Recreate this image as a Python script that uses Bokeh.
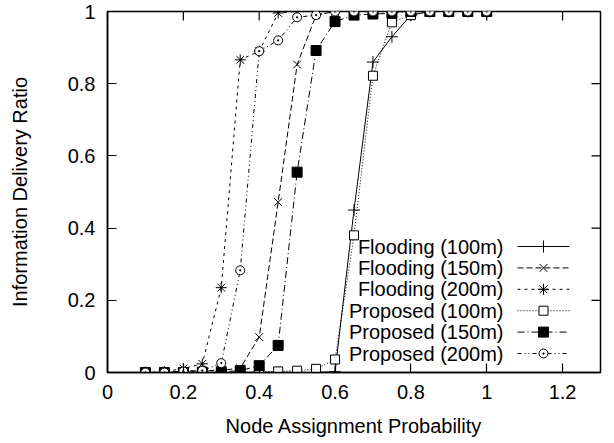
import math
from bokeh.plotting import figure
from bokeh.models import Range1d, FixedTicker, Label
from bokeh.embed import file_html
from bokeh.resources import INLINE

# ---- data ----
x_prob = [0.10, 0.15, 0.20, 0.25, 0.30, 0.35, 0.40, 0.45, 0.50, 0.55,
          0.60, 0.65, 0.70, 0.75, 0.80, 0.85, 0.90, 0.95, 1.00]

flooding_100 = [0.0, 0.0, 0.0, 0.0, 0.0, 0.0, 0.0, 0.0, 0.0, 0.0,
                0.002, 0.45, 0.86, 0.93, 0.99, 1.0, 1.0, 1.0, 1.0]
flooding_150 = [0.0, 0.0, 0.004, 0.005, 0.006, 0.012, 0.098, 0.472, 0.853, 0.99,
                1.0, 1.0, 1.0, 1.0, 1.0, 1.0, 1.0, 1.0, 1.0]
flooding_200 = [0.0, 0.002, 0.011, 0.024, 0.235, 0.866, 0.89, 0.996, 1.0, 1.0,
                1.0, 1.0, 1.0, 1.0, 1.0, 1.0, 1.0, 1.0, 1.0]
proposed_100 = [0.0, 0.0, 0.0, 0.0, 0.0, 0.0, 0.002, 0.003, 0.005, 0.01,
                0.036, 0.38, 0.822, 0.97, 0.99, 1.0, 1.0, 1.0, 1.0]
proposed_150 = [0.0, 0.0, 0.0, 0.001, 0.002, 0.005, 0.019, 0.075, 0.555, 0.892,
                0.972, 0.99, 0.993, 0.995, 1.0, 1.0, 1.0, 1.0, 1.0]
proposed_200 = [0.0, 0.0, 0.003, 0.005, 0.026, 0.283, 0.89, 0.92, 0.984, 0.99,
                1.0, 1.0, 1.0, 1.0, 1.0, 1.0, 1.0, 1.0, 1.0]

series_labels = ["Flooding (100m)", "Flooding (150m)", "Flooding (200m)",
                 "Proposed (100m)", "Proposed (150m)", "Proposed (200m)"]

x_ticks = [0, 0.2, 0.4, 0.6, 0.8, 1.0, 1.2]
x_tick_labels = ["0", "0.2", "0.4", "0.6", "0.8", "1", "1.2"]
y_ticks = [0, 0.2, 0.4, 0.6, 0.8, 1.0]
y_tick_labels = ["0", "0.2", "0.4", "0.6", "0.8", "1"]

# ---- styles ----
FONT = "Liberation Sans"
FS = "20px"
styles = [
    dict(dash="solid", marker="cross", size=12, fill="black"),
    dict(dash="6 3", marker="x", size=11, fill="black"),
    dict(dash="3 4", marker="asterisk", size=11, fill="black"),
    dict(dash="1 2", marker="square", size=9, fill="white"),
    dict(dash="7 3 1 3", marker="square", size=10, fill="black"),
    dict(dash="4 3 1 3 1 3", marker="circle_dot", size=9, fill="white"),
]
series = [flooding_100, flooding_150, flooding_200, proposed_100, proposed_150, proposed_200]

X0, X1 = 0.0, 1.3
Y0, Y1 = 0.0, 1.0
L, R, T, B = 107, 14, 11, 71
W, H = 614, 443
TICK = 9

p = figure(width=W, height=H, x_range=Range1d(X0, X1), y_range=Range1d(Y0, Y1),
           output_backend="svg", toolbar_location=None,
           min_border_left=L, min_border_right=R, min_border_top=T, min_border_bottom=B)
p.grid.visible = False
p.outline_line_color = "black"
p.outline_line_width = 1.5
p.background_fill_color = "white"
p.border_fill_color = "white"

def style_axis(ax, ticks, labels):
    ax.ticker = FixedTicker(ticks=ticks)
    ax.major_label_overrides = {t: l for t, l in zip(ticks, labels)}
    ax.major_tick_in = TICK
    ax.major_tick_out = 0
    ax.minor_tick_line_color = None
    ax.axis_line_width = 1.5
    ax.major_tick_line_width = 1.2
    ax.axis_line_color = "black"
    ax.major_tick_line_color = "black"
    ax.major_label_text_font = FONT
    ax.major_label_text_font_size = FS
    ax.major_label_text_color = "black"
    ax.major_label_standoff = 12
    ax.axis_label_text_font = FONT
    ax.axis_label_text_font_size = FS
    ax.axis_label_text_font_style = "normal"
    ax.axis_label_text_color = "black"

style_axis(p.xaxis[0], x_ticks, x_tick_labels)
style_axis(p.yaxis[0], y_ticks, y_tick_labels)
p.xaxis[0].axis_label = "Node Assignment Probability"
p.yaxis[0].axis_label = "Information Delivery Ratio"
p.xaxis[0].axis_label_standoff = 13
p.yaxis[0].axis_label_standoff = 34

# mirrored ticks on the top and right borders (gnuplot style)
p.ray(x=x_ticks, y=[Y1] * len(x_ticks), length=TICK, length_units="screen",
      angle=-math.pi / 2, line_color="black", line_width=1.2)
p.ray(x=[X1] * len(y_ticks), y=y_ticks, length=TICK, length_units="screen",
      angle=math.pi, line_color="black", line_width=1.2)

for ys, st in zip(series, styles):
    p.line(x_prob, ys, line_color="black", line_width=1, line_dash=st["dash"])
    p.scatter(x_prob, ys, marker=st["marker"], size=st["size"],
              line_color="black", fill_color=st["fill"], line_width=1)

# ---- legend (gnuplot style: text right-aligned, sample on the right) ----
plot_w = W - L - R
plot_h = H - T - B
def px_to_x(px):
    return X0 + (px - L) / plot_w * (X1 - X0)
def py_to_y(py):
    return Y1 - (py - T) / plot_h * (Y1 - Y0)

row0_py, row_step = 246, 21.4
text_px = 503
line_px0, line_px1 = 517, 569
mark_px = 543
for i, (lab, st) in enumerate(zip(series_labels, styles)):
    yy = py_to_y(row0_py + i * row_step)
    p.add_layout(Label(x=px_to_x(text_px), y=yy, text=lab, text_align="right",
                       text_baseline="middle", text_font=FONT, text_font_size=FS,
                       text_color="black"))
    p.line([px_to_x(line_px0), px_to_x(line_px1)], [yy, yy], line_color="black",
           line_width=1, line_dash=st["dash"])
    p.scatter([px_to_x(mark_px)], [yy], marker=st["marker"], size=st["size"],
              line_color="black", fill_color=st["fill"], line_width=1)

open("out.html", "w").write(file_html(p, INLINE))
